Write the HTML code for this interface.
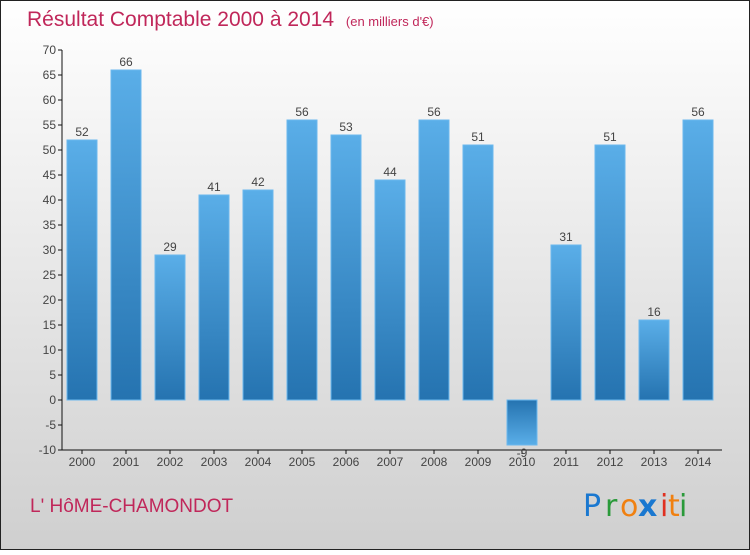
<!DOCTYPE html>
<html><head><meta charset="utf-8"><style>
html,body{margin:0;padding:0}
body{width:750px;height:550px;overflow:hidden;font-family:"Liberation Sans",sans-serif}
</style></head><body>
<svg width="750" height="550" xmlns="http://www.w3.org/2000/svg">
<defs>
<linearGradient id="bg" x1="0" y1="0" x2="0" y2="1"><stop offset="0" stop-color="#ffffff"/><stop offset="1" stop-color="#cfcfcf"/></linearGradient>
<linearGradient id="bp" x1="0" y1="0" x2="0" y2="1"><stop offset="0" stop-color="#5aaee8"/><stop offset="1" stop-color="#2573b0"/></linearGradient>
<linearGradient id="bn" x1="0" y1="0" x2="0" y2="1"><stop offset="0" stop-color="#2573b0"/><stop offset="1" stop-color="#5aaee8"/></linearGradient>
</defs>
<rect x="0.5" y="0.5" width="749" height="549" fill="url(#bg)" stroke="#222"/>
<text x="27" y="26" font-size="21" fill="#c0275a">Résultat Comptable 2000 à 2014 <tspan font-size="13" dx="6">(en milliers d'€)</tspan></text>
<g id="axes"></g>
<g id="bars"></g>
<text x="30" y="512" font-size="19" fill="#c0275a">L' HôME-CHAMONDOT</text>
<g font-size="30" font-family="'DejaVu Sans',sans-serif">
<text x="583" y="516" fill="#1a78d0">P</text><text x="605" y="516" fill="#2a9a3a">r</text><text x="620" y="516" fill="#f08010">o</text><text x="638" y="516" fill="#1a78d0" font-weight="bold">x</text><text x="660" y="516" fill="#e03020">i</text><text x="668" y="516" fill="#f08010">t</text><text x="679" y="516" fill="#2a9a3a">i</text>
</g>
</svg>
<script>
const years=["2000","2001","2002","2003","2004","2005","2006","2007","2008","2009","2010","2011","2012","2013","2014"];
const values=[52,66,29,41,42,56,53,44,56,51,-9,31,51,16,56];
const yTicks=[-10,-5,0,5,10,15,20,25,30,35,40,45,50,55,60,65,70];
const NS="http://www.w3.org/2000/svg";
const y=v=>400-v*5;
const x=i=>82+i*44;
function mk(t,a,p){const e=document.createElementNS(NS,t);for(const k in a)e.setAttribute(k,a[k]);p.appendChild(e);return e;}
const ax=document.getElementById('axes'),bg=document.getElementById('bars');
let l=mk('line',{x1:62,y1:y(70),x2:62,y2:y(-10),stroke:'#111'},ax);


l=mk('line',{x1:62,y1:450,x2:722,y2:450,stroke:'#111'},ax);


yTicks.forEach(v=>{
 mk('line',{x1:58,y1:y(v),x2:62,y2:y(v),stroke:'#111'},ax);
 const t=mk('text',{x:56,y:y(v)+4,'text-anchor':'end','font-size':12,fill:'#444'},ax);
 t.textContent=v;
 
 
});
years.forEach((yr,i)=>{
 mk('line',{x1:x(i),y1:450,x2:x(i),y2:454,stroke:'#111'},ax);
 const t=mk('text',{x:x(i),y:466,'text-anchor':'middle','font-size':12,fill:'#444'},ax);
 t.textContent=yr;
 
 
 const v=values[i];
 const r=mk('rect',{x:x(i)-15,y:Math.min(y(v),y(0)),width:30,height:Math.abs(y(v)-y(0)),fill:v>=0?'url(#bp)':'url(#bn)',stroke:'#6bb8ee','stroke-width':1},bg);
 
 
 const lb=mk('text',{x:x(i),y:v>=0?y(v)-4:y(v)+12,'text-anchor':'middle','font-size':12,fill:'#444'},bg);
 lb.textContent=v;
 
 
});
</script>
</body></html>
